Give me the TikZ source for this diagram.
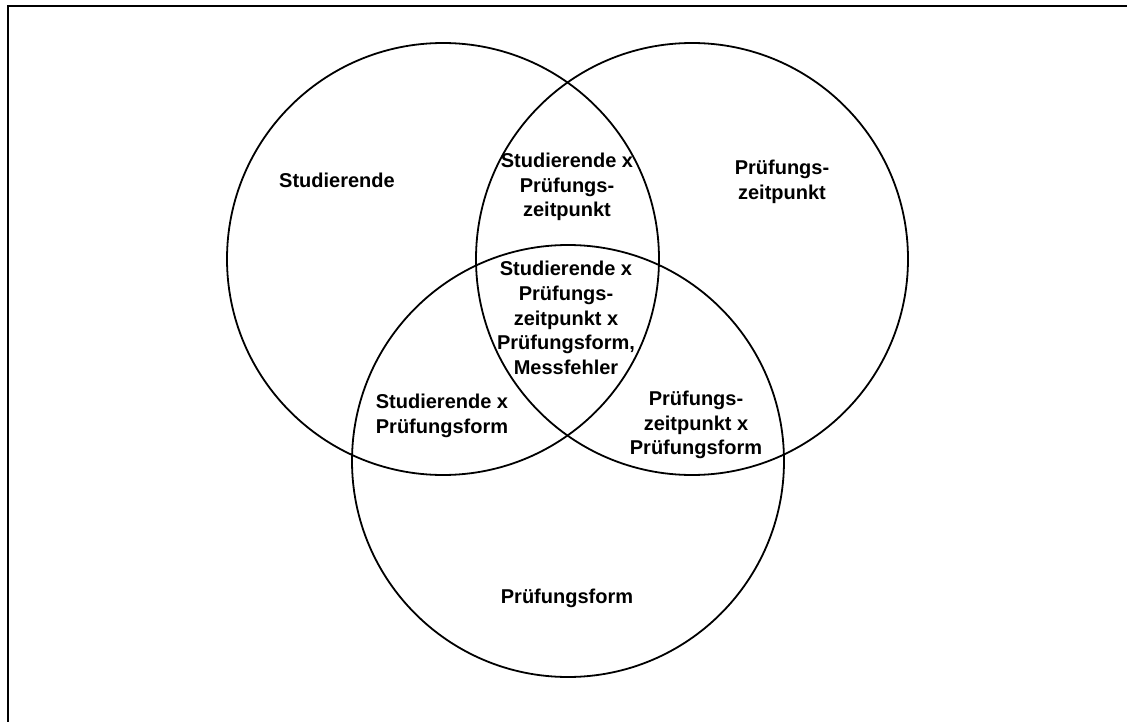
\documentclass[tikz,border=0pt]{standalone}
\usepackage{fontspec}
\setmainfont{Liberation Sans}
\begin{document}
\begin{tikzpicture}[x=1pt,y=-1pt,
  setc/.style={circle,draw,line width=1.8pt,inner sep=0pt,minimum size=432pt},
  lbl/.style={align=center,font=\bfseries\fontsize{20}{24.6}\selectfont,inner sep=0pt}]
\useasboundingbox (0,0) rectangle (1127,722);
\draw[line width=2.4pt] (8,722) -- (8,6) -- (1127,6);
\node[setc] (stud) at (443,259) {};
\node[setc] (zeit) at (692,259) {};
\node[setc] (form) at (568,461) {};
\node[lbl] (l1) at (337,180) {Studierende};
\node[lbl] (l2) at (567,187) {Studierende x\\Prüfungs-\\zeitpunkt};
\node[lbl] (l3) at (782,182) {Prüfungs-\\zeitpunkt};
\node[lbl] (l4) at (566,318) {Studierende x\\Prüfungs-\\zeitpunkt x\\Prüfungsform,\\Messfehler};
\node[lbl] (l5) at (442,416) {Studierende x\\Prüfungsform};
\node[lbl] (l6) at (696,425) {Prüfungs-\\zeitpunkt x\\Prüfungsform};
\node[lbl] (l7) at (567,598) {Prüfungsform};
\end{tikzpicture}
\end{document}
